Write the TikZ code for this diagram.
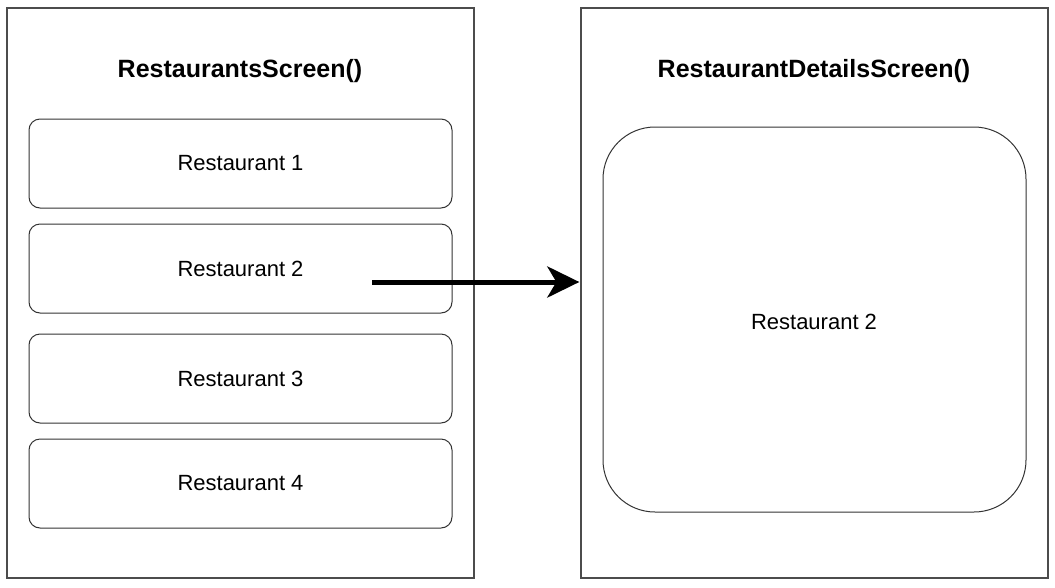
\documentclass[tikz,border=0pt]{standalone}
\usepackage{fontspec}
\setmainfont{Liberation Sans}
\usetikzlibrary{arrows.meta}
\tikzset{
  screen/.style={draw=black!70, line width=1.3pt, inner sep=0pt},
  item/.style={draw=black!80, line width=1pt, rounded corners=11pt, inner sep=0pt, font=\fontsize{22}{26}\selectfont},
  bigitem/.style={draw=black!80, line width=1pt, rounded corners=52pt, inner sep=0pt, font=\fontsize{22}{26}\selectfont},
  title/.style={font=\fontsize{25}{30}\selectfont\bfseries},
  navarrow/.style={line width=5pt, -{Stealth[length=32pt, width=31pt, inset=9pt]}}
}
\begin{document}
\begin{tikzpicture}[x=1pt,y=-1pt]
\useasboundingbox (0,0) rectangle (1055,587);
% screens
\node[screen, minimum width=467pt, minimum height=570pt] (left) at (240.5,293) {};
\node[screen, minimum width=467pt, minimum height=570pt] (right) at (814.5,293) {};
\node[title] (lt) at (240,71) {RestaurantsScreen()};
\node[title] (rt) at (814,71) {RestaurantDetailsScreen()};
% list items
\node[item, minimum width=423pt, minimum height=89pt] (r1) at (240.5,163.5) {Restaurant 1};
\node[item, minimum width=423pt, minimum height=89pt] (r2) at (240.5,268.5) {Restaurant 2};
\node[item, minimum width=423pt, minimum height=89pt] (r3) at (240.5,378.5) {Restaurant 3};
\node[item, minimum width=423pt, minimum height=89pt] (r4) at (240.5,483.5) {Restaurant 4};
% detail
\node[bigitem, minimum width=423pt, minimum height=385pt] (d) at (814.5,319.5) {};
\node[font=\fontsize{22}{26}\selectfont] (dt) at (814,322) {Restaurant 2};
% arrow
\coordinate (s) at (372,282);
\draw[navarrow] (s) -- ([xshift=-1pt]right.west |- s);
\end{tikzpicture}
\end{document}
